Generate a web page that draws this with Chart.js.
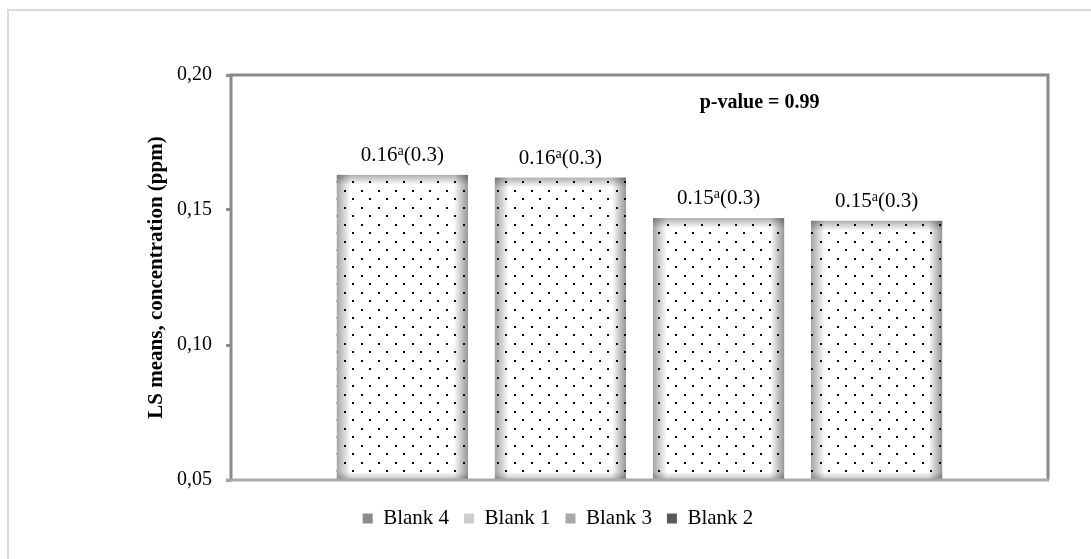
<!DOCTYPE html>
<html>
<head>
<meta charset="utf-8">
<script src="https://cdn.jsdelivr.net/npm/chart.js@4"></script>
<style>
body { margin: 0; background: #fff; overflow: hidden; }
#frame { position: absolute; left: 7px; top: 9px; width: 1200px; height: 700px; border: 2px solid #dadada; box-sizing: border-box; }
#wrap { position: absolute; left: 0; top: 0; width: 1091px; height: 559px; }
</style>
</head>
<body>
<div id="frame"></div>
<div id="wrap"><canvas id="chart" width="1091" height="559"></canvas></div>
<script>
// data
const categories = [''];
const seriesNames = ['Blank 4', 'Blank 1', 'Blank 3', 'Blank 2'];
const seriesValues = [0.163, 0.162, 0.147, 0.146];
const meanLabels = ['0.16', '0.16', '0.15', '0.15'];
const letterLabels = ['a', 'a', 'a', 'a'];
const seLabels = ['(0.3)', '(0.3)', '(0.3)', '(0.3)'];
const legendColors = ['#8c8c8c', '#cdcdcd', '#a8a8a8', '#5a5a5a'];
const yMin = 0.05, yMax = 0.20, yStep = 0.05;
const pValueText = 'p-value = 0.99';

const FONT = '"Liberation Serif", "Times New Roman", serif';

// dotted fill like the original
function makeDots() {
    const c = document.createElement('canvas');
    c.width = 17; c.height = 17;
    const g = c.getContext('2d');
    g.fillStyle = '#fff';
    g.fillRect(0, 0, 17, 17);
    g.fillStyle = '#000';
    g.fillRect(4, 3, 2, 2);
    g.fillRect(12, 11, 2, 2);
    return g.createPattern(c, 'repeat');
}
const dots = makeDots();

// grey shading around the bar edges
const barShade = {
    id: 'barShade',
    afterDatasetsDraw(chart) {
        const ctx = chart.ctx;
        const a = chart.chartArea;
        ctx.save();
        ctx.beginPath();
        ctx.rect(a.left, a.top, a.right - a.left, a.bottom - a.top);
        ctx.clip();
        ctx.globalCompositeOperation = 'multiply';
        chart.data.datasets.forEach((ds, i) => {
            chart.getDatasetMeta(i).data.forEach(bar => {
                const l = bar.x - bar.width / 2, r = bar.x + bar.width / 2;
                const t = bar.y, b = Math.min(bar.base, a.bottom);
                let g = ctx.createLinearGradient(l, 0, l + 14, 0);
                g.addColorStop(0, 'rgb(165,165,165)');
                g.addColorStop(1, 'rgb(255,255,255)');
                ctx.fillStyle = g; ctx.fillRect(l, t, 14, b - t);
                g = ctx.createLinearGradient(r, 0, r - 14, 0);
                g.addColorStop(0, 'rgb(150,150,150)');
                g.addColorStop(1, 'rgb(255,255,255)');
                ctx.fillStyle = g; ctx.fillRect(r - 14, t, 14, b - t);
                g = ctx.createLinearGradient(0, t, 0, t + 10);
                g.addColorStop(0, 'rgb(175,175,175)');
                g.addColorStop(1, 'rgb(255,255,255)');
                ctx.fillStyle = g; ctx.fillRect(l, t, r - l, 10);
                g = ctx.createLinearGradient(0, b, 0, b - 8);
                g.addColorStop(0, 'rgb(190,190,190)');
                g.addColorStop(1, 'rgb(255,255,255)');
                ctx.fillStyle = g; ctx.fillRect(l, b - 8, r - l, 8);
            });
        });
        ctx.restore();
    }
};

// value labels with superscript letter, frame and p-value
const extras = {
    id: 'extras',
    afterDraw(chart) {
        const ctx = chart.ctx;
        const a = chart.chartArea;
        ctx.save();
        chart.data.datasets.forEach((ds, i) => {
            const bar = chart.getDatasetMeta(i).data[0];
            const big = '21px ' + FONT, small = '14px ' + FONT;
            ctx.font = big;
            const w1 = ctx.measureText(meanLabels[i]).width;
            const w3 = ctx.measureText(seLabels[i]).width;
            ctx.font = small;
            const w2 = ctx.measureText(letterLabels[i]).width;
            let x = bar.x - (w1 + w2 + w3) / 2;
            const y = bar.y - 14;
            ctx.fillStyle = '#000';
            ctx.textAlign = 'left';
            ctx.textBaseline = 'alphabetic';
            ctx.font = big; ctx.fillText(meanLabels[i], x, y); x += w1;
            ctx.font = small; ctx.fillText(letterLabels[i], x, y - 6); x += w2;
            ctx.font = big; ctx.fillText(seLabels[i], x, y);
        });

        // plot frame
        ctx.lineWidth = 3;
        ctx.strokeStyle = '#8a8a8a';
        ctx.beginPath();
        ctx.moveTo(a.left, a.bottom);
        ctx.lineTo(a.left, a.top);
        ctx.lineTo(a.right, a.top);
        ctx.lineTo(a.right, a.bottom);
        ctx.stroke();
        ctx.strokeStyle = '#a9a9a9';
        ctx.beginPath();
        ctx.moveTo(a.left - 5, a.bottom);
        ctx.lineTo(a.right + 1, a.bottom);
        ctx.stroke();

        ctx.font = 'bold 20px ' + FONT;
        ctx.textAlign = 'center';
        ctx.textBaseline = 'middle';
        ctx.fillStyle = '#000';
        ctx.fillText(pValueText, a.left + (a.right - a.left) * 0.647, a.top + 28);
        ctx.restore();
    }
};

new Chart(document.getElementById('chart'), {
    type: 'bar',
    data: {
        labels: categories,
        datasets: seriesNames.map((name, i) => ({
            label: name,
            data: [seriesValues[i]],
            backgroundColor: dots,
            borderWidth: 0
        }))
    },
    options: {
        responsive: false,
        animation: false,
        categoryPercentage: 0.774,
        barPercentage: 0.83,
        layout: { padding: { left: 68, top: 75, right: 43, bottom: 20 } },
        plugins: {
            tooltip: { enabled: false },
            legend: {
                position: 'bottom',
                labels: {
                    font: { family: FONT, size: 21 },
                    color: '#000',
                    boxWidth: 10,
                    boxHeight: 10,
                    padding: 15,
                    generateLabels: chart => seriesNames.map((n, i) => ({
                        text: n,
                        fillStyle: legendColors[i],
                        strokeStyle: legendColors[i],
                        lineWidth: 0,
                        datasetIndex: i
                    }))
                }
            }
        },
        scales: {
            x: {
                grid: { display: false },
                border: { display: false },
                ticks: { display: false },
                afterFit: s => { s.height = 13; }
            },
            y: {
                min: yMin,
                max: yMax,
                afterFit: s => { s.width = 163; },
                ticks: {
                    stepSize: yStep,
                    padding: 14,
                    color: '#000',
                    font: { family: FONT, size: 20 },
                    callback: v => v.toFixed(2).replace('.', ',')
                },
                grid: { drawOnChartArea: false, tickLength: 5, color: '#8a8a8a', lineWidth: 3 },
                border: { display: false },
                title: {
                    display: true,
                    text: 'LS means, concentration (ppm)',
                    color: '#000',
                    padding: { top: 76, bottom: 4 },
                    font: { family: FONT, size: 21, weight: 'bold' }
                }
            }
        }
    },
    plugins: [barShade, extras]
});
</script>
</body>
</html>
